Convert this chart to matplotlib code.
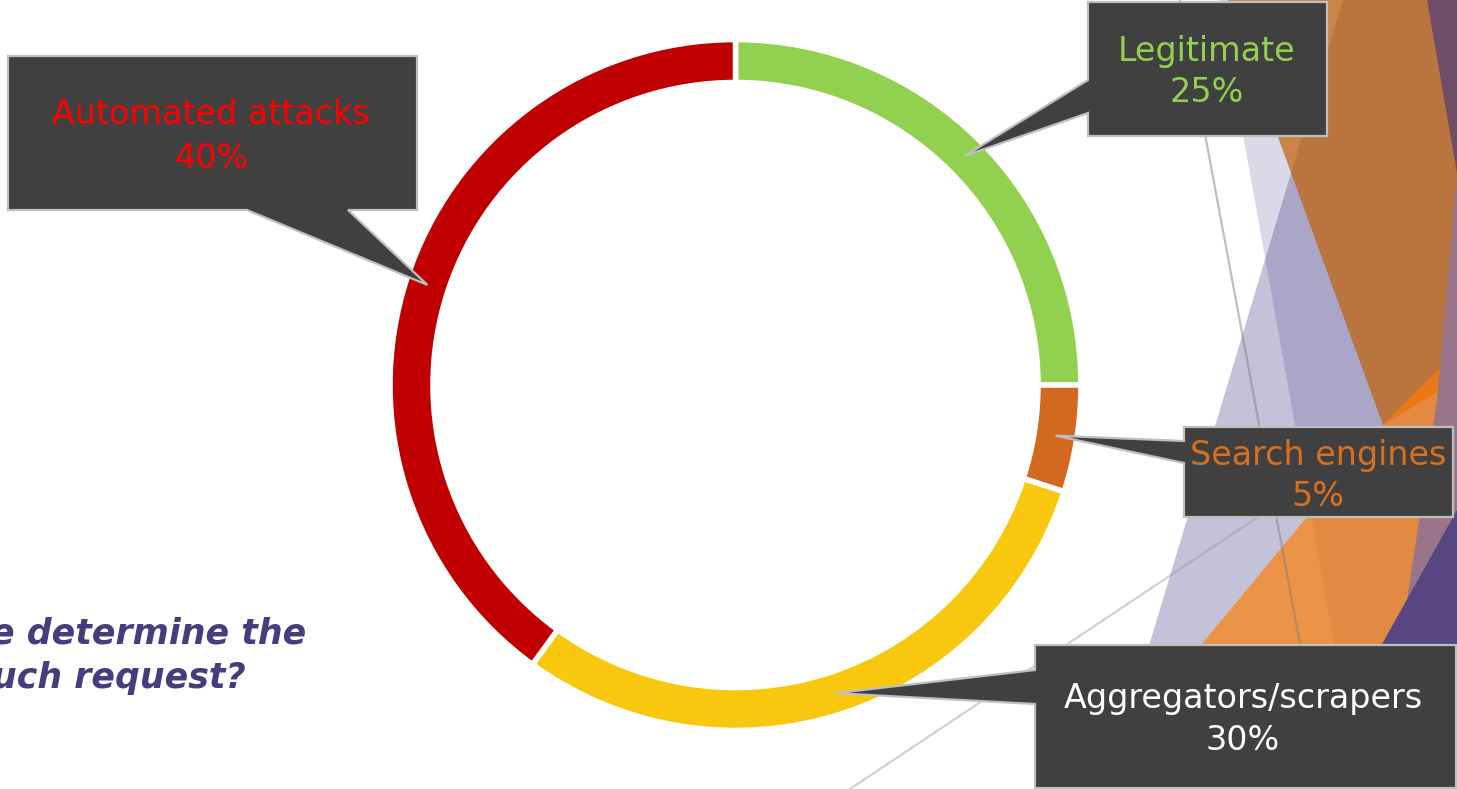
import matplotlib.pyplot as plt
from matplotlib.patches import Polygon
import numpy as np

W, H = 1457, 789

# data
labels = ["Legitimate", "Search engines", "Aggregators/scrapers", "Automated attacks"]
shares = [25, 5, 30, 40]
ring_colors = ["#92D050", "#D2691E", "#F9C80E", "#C00000"]
label_colors = ["#92D050", "#D9701F", "#FFFFFF", "#FF0000"]

fig = plt.figure(figsize=(W / 100, H / 100), dpi=100)
ax = fig.add_axes([0, 0, 1, 1])


def shape(pts, color, alpha=1.0, z=0):
    ax.add_patch(Polygon(pts, closed=True, facecolor=color, edgecolor="none",
                         alpha=alpha, zorder=z))


# slide decoration on the right (pixel coords, y down)
shape([(1219, 0), (W, 0), (W, H), (1360, H)], "#DAD9E7")
shape([(1343, 0), (W, 0), (W, H), (1106, H)], "#2E2478", 0.28)
shape([(1228, 0), (W, 0), (W, 380), (1383, 425)], "#C26103", 0.7)
shape([(1082, H), (1383, 425), (W, 351), (W, H)], "#FF7C00", 0.67)
shape([(1427, 0), (W, 0), (W, 173)], "#6E4D66")
shape([(W, 173), (W, H), (1379, H), (1437, 400)], "#9A7589")
shape([(W, 510), (W, H), (1301, H)], "#574682")
ax.plot([1180, 1327], [0, H], color="#808080", alpha=0.5, lw=1.6, zorder=1)
ax.plot([850, 1300], [H, 489], color="#909090", alpha=0.4, lw=1.6, zorder=1)

# donut
cx, cy = 735.5, 385
r_out, ring_w = 345.5, 43
wedges, _ = ax.pie(shares, colors=ring_colors, startangle=-90, counterclock=True,
                   center=(cx, cy), radius=r_out, frame=True,
                   wedgeprops=dict(width=ring_w, edgecolor="white", linewidth=4))
for w in wedges:
    w.set_zorder(2)

# callout layout: box (x0, y0, x1, y1), tail base points, text baselines
callouts = [
    dict(box=(1088, 2, 1327, 136), base=[(1088, 113), (1088, 80)], lines=(61, 102), cxt=1207),
    dict(box=(1184, 427, 1453, 517), base=[(1184, 463), (1184, 441)], lines=(465, 506), cxt=1318),
    dict(box=(1035, 645, 1456, 788), base=[(1035, 704), (1035, 670)], lines=(708, 750), cxt=1243),
    dict(box=(8, 56, 417, 210), base=[(348, 210), (247, 210)], lines=(124, 168), cxt=211),
]

r_mid = r_out - ring_w / 2
for w, lab, val, col, co in zip(wedges, labels, shares, label_colors, callouts):
    th = np.deg2rad((w.theta1 + w.theta2) / 2)
    tip = (cx + r_mid * np.cos(th), cy + r_mid * np.sin(th))
    x0, y0, x1, y1 = co["box"]
    b1, b2 = co["base"]
    if b1[1] == y1:  # tail on the bottom edge
        pts = [(x0, y0), (x1, y0), (x1, y1), b1, tip, b2, (x0, y1)]
    else:  # tail on the left edge
        pts = [(x0, y0), (x1, y0), (x1, y1), (x0, y1), b1, tip, b2]
    ax.add_patch(Polygon(pts, closed=True, facecolor="#404040", edgecolor="#BFBFBF",
                         linewidth=1.6, joinstyle="miter", zorder=3))
    ax.text(co["cxt"], co["lines"][0], lab, color=col, fontsize=24,
            ha="center", va="baseline", zorder=4)
    ax.text(co["cxt"], co["lines"][1], f"{val}%", color=col, fontsize=24,
            ha="center", va="baseline", zorder=4)

# cropped slide question on the left
ax.text(306, 643, "e determine the", color="#463C7E", fontsize=25,
        fontweight="bold", fontstyle="italic", ha="right", va="baseline", zorder=2)
ax.text(246, 688, "uch request?", color="#463C7E", fontsize=25,
        fontweight="bold", fontstyle="italic", ha="right", va="baseline", zorder=2)

ax.set_xlim(0, W)
ax.set_ylim(H, 0)
ax.set_aspect("equal")
ax.axis("off")

fig.savefig("out.png", dpi=100)
